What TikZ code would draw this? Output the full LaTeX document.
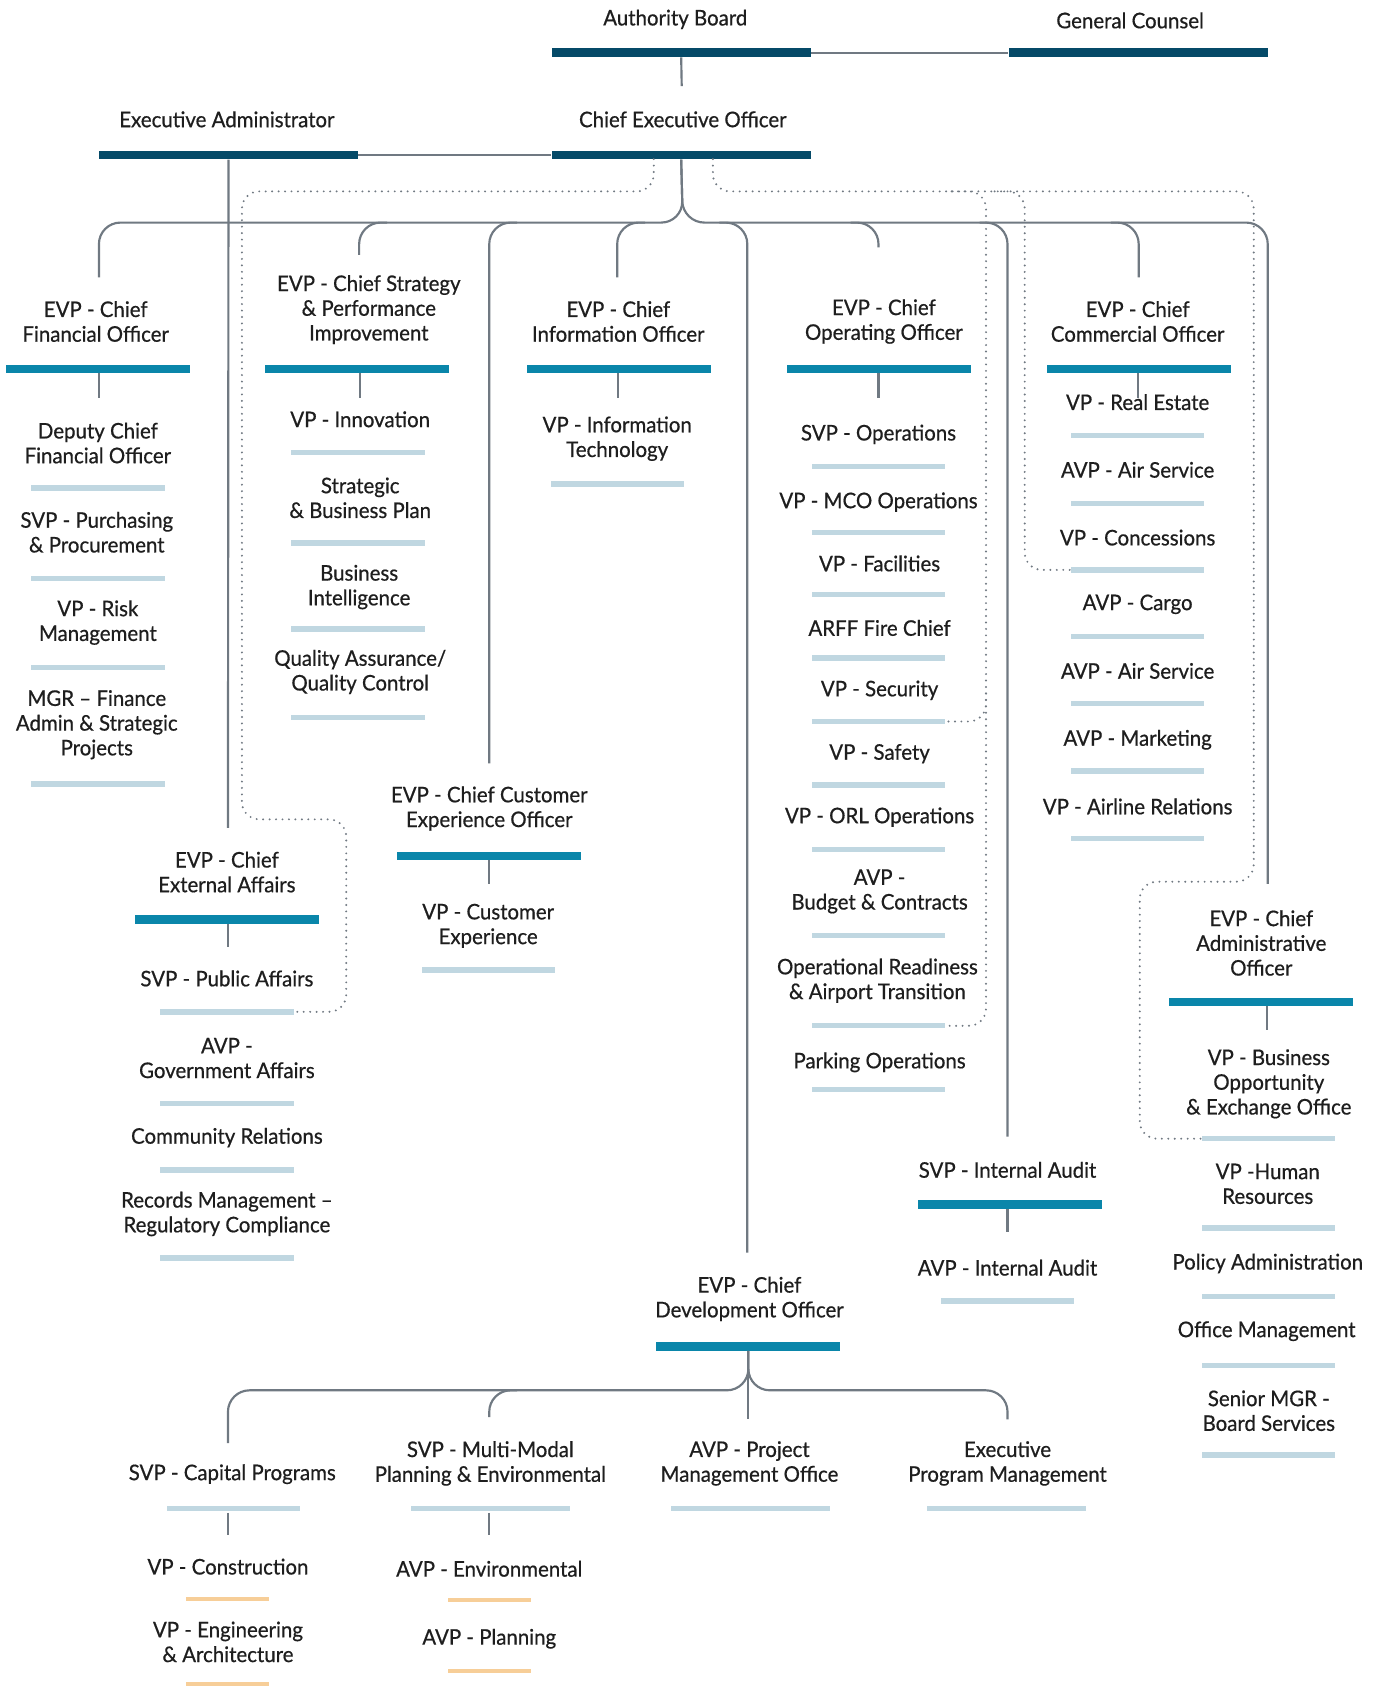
\documentclass[tikz,border=0pt]{standalone}
\usepackage{fontspec}
\setmainfont{Lato}[FakeStretch=0.95,FakeBold=0.6]
\definecolor{navy}{RGB}{5,74,104}
\definecolor{evpteal}{RGB}{10,134,170}
\definecolor{lightb}{RGB}{192,215,225}
\definecolor{orng}{RGB}{247,206,152}
\definecolor{connc}{RGB}{112,121,130}
\definecolor{txt}{RGB}{30,30,30}
\newcommand\lbfont{\fontsize{10pt}{11.5pt}\selectfont}
\tikzset{
 lbl/.style={align=center, inner sep=0pt, font=\lbfont, text=txt},
 topbar/.style={fill=navy, minimum width=120.5pt, minimum height=4pt, inner sep=0pt},
 evpbar/.style={fill=evpteal, minimum width=85.5pt, minimum height=4pt, inner sep=0pt},
 subline/.style={fill=lightb, minimum width=62pt, minimum height=2.5pt, inner sep=0pt},
 wideline/.style={subline, minimum width=74pt},
 orline/.style={fill=orng, minimum width=38.5pt, minimum height=2pt, inner sep=0pt},
 conn/.style={draw=connc, line width=1pt},
 branch/.style={conn, rounded corners=10pt},
 dotl/.style={draw=connc, line width=1pt, line cap=round, dash pattern=on 0pt off 3pt, rounded corners=8pt},
}
\begin{document}
\begin{tikzpicture}[x=0.5pt,y=-0.5pt]
\useasboundingbox[fill=white] (0,0) rectangle (1285,1568);

% ---- top
\node[lbl] (ab) at (628,18) {Authority Board};
\node[topbar] (abbar) at (633.5,49) {};
\node[lbl] (gc) at (1051,19) {General Counsel};
\node[topbar] (gcbar) at (1058.5,49) {};
\node[lbl] (ea) at (211,111) {Executive Administrator};
\node[topbar] (eabar) at (212.5,144) {};
\node[lbl] (ceo) at (635,111) {Chief Executive Officer};
\node[topbar] (ceobar) at (633.5,144) {};

\coordinate (abdown) at (634,80);
\draw[conn] (abbar.east) -- (gcbar.west);
\draw[conn] (abbar.south) -- (abdown);
\draw[conn] (eabar.east) -- (ceobar.west);
\coordinate (eaend) at (212,770);
\draw[conn] (eabar.south) -- (eaend);

% ---- main tree
\draw[branch] (ceobar.south) -- (635,207) -- (92,207) -- (92,258);
\draw[branch] (ceobar.south) -- (635,207) -- (1179,207) -- (1179,822);
\draw[branch] (360,207) -- (334,207) -- (334,237);
\draw[branch] (481,207) -- (455,207) -- (455,710);
\draw[branch] (600,207) -- (574,207) -- (574,258);
\draw[branch] (669,207) -- (695,207) -- (695,1165);
\draw[branch] (791,207) -- (817,207) -- (817,230);
\draw[branch] (911,207) -- (937,207) -- (937,1057);
\draw[branch] (1033,207) -- (1059,207) -- (1059,258);

% ---- EVP headers
\node[lbl] (cfo) at (89,299) {EVP - Chief\\Financial Officer};
\node[evpbar] (cfobar) at (91.5,343) {};
\node[lbl] (csp) at (343,288) {EVP - Chief Strategy\\\& Performance\\Improvement};
\node[evpbar] (cspbar) at (332,343) {};
\node[lbl] (cio) at (575,299) {EVP - Chief\\Information Officer};
\node[evpbar] (ciobar) at (576,343) {};
\node[lbl] (coo) at (822,299) {EVP - Chief\\Operating Officer};
\node[evpbar] (coobar) at (817.5,343) {};
\node[lbl] (cco) at (1058,299) {EVP - Chief\\Commercial Officer};
\node[evpbar] (ccobar) at (1059,343) {};

\draw[conn] (92,347) -- (92,370);
\draw[conn] (335,347) -- (335,370);
\draw[conn] (575,347) -- (575,370);
\draw[conn] (817,347) -- (817,370);
\draw[conn] (1058,347) -- (1058,370);

% ---- CFO column
\node[lbl] (dcfo) at (91,412) {Deputy Chief\\Financial Officer};
\node[subline] (dcfol) at (91,454) {};
\node[lbl] (purch) at (90,495) {SVP - Purchasing\\\& Procurement};
\node[subline] (purchl) at (91,538) {};
\node[lbl] (risk) at (91,579) {VP - Risk\\Management};
\node[subline] (riskl) at (91,621) {};
\node[lbl] (mgrf) at (90,674) {MGR – Finance\\Admin \& Strategic\\Projects};
\node[subline] (mgrfl) at (91,729) {};

% ---- Strategy column
\node[lbl] (innov) at (335,390) {VP - Innovation};
\node[subline] (innovl) at (333,421) {};
\node[lbl] (sbp) at (335,463) {Strategic\\\& Business Plan};
\node[subline] (sbpl) at (333,505) {};
\node[lbl] (bi) at (334,546) {Business\\Intelligence};
\node[subline] (bil) at (333,585) {};
\node[lbl] (qa) at (335,625) {Quality Assurance/\\Quality Control};
\node[subline] (qal) at (333,667) {};

% ---- CIO column
\node[lbl] (vpit) at (574,408) {VP - Information\\Technology};
\node[subline] (vpitl) at (574,450) {};

% ---- COO column
\node[lbl] (svpops) at (817,404) {SVP - Operations};
\node[subline] (svpopsl) at (817,434) {};
\node[lbl] (mco) at (817,467) {VP - MCO Operations};
\node[subline] (mcol) at (817,495) {};
\node[lbl] (fac) at (818,524) {VP - Facilities};
\node[subline] (facl) at (817,553) {};
\node[lbl] (arff) at (818,584) {ARFF Fire Chief};
\node[subline] (arffl) at (817,612) {};
\node[lbl] (sec) at (818,642) {VP - Security};
\node[subline] (secl) at (817,671) {};
\node[lbl] (saf) at (818,701) {VP - Safety};
\node[subline] (safl) at (817,730) {};
\node[lbl] (orl) at (818,760) {VP - ORL Operations};
\node[subline] (orll) at (817,790) {};
\node[lbl] (budg) at (818,829) {AVP -\\Budget \& Contracts};
\node[subline] (budgl) at (817,870) {};
\node[lbl] (opr) at (816,912) {Operational Readiness\\\& Airport Transition};
\node[subline] (oprl) at (817,954) {};
\node[lbl] (park) at (818,988) {Parking Operations};
\node[subline] (parkl) at (817,1013) {};

% ---- CCO column
\node[lbl] (re) at (1058,374) {VP - Real Estate};
\node[subline] (rel) at (1058,405) {};
\node[lbl] (air1) at (1058,437) {AVP - Air Service};
\node[subline] (air1l) at (1058,468) {};
\node[lbl] (conc) at (1058,500) {VP - Concessions};
\node[subline] (concl) at (1058,530) {};
\node[lbl] (cargo) at (1058,562) {AVP - Cargo};
\node[subline] (cargol) at (1058,592) {};
\node[lbl] (air2) at (1058,624) {AVP - Air Service};
\node[subline] (air2l) at (1058,654) {};
\node[lbl] (mkt) at (1058,688) {AVP - Marketing};
\node[subline] (mktl) at (1058,717) {};
\node[lbl] (alr) at (1058,750) {VP - Airline Relations};
\node[subline] (alrl) at (1058,780) {};

% ---- Customer experience
\node[lbl] (cxo) at (455,752) {EVP - Chief Customer\\Experience Officer};
\node[evpbar] (cxobar) at (454.5,796) {};
\draw[conn] (455,800) -- (455,822);
\node[lbl] (vpcx) at (454,861) {VP - Customer\\Experience};
\node[subline] (vpcxl) at (454,902) {};

% ---- External affairs
\node[lbl] (exa) at (211,811) {EVP - Chief\\External Affairs};
\node[evpbar] (exabar) at (211,855) {};
\draw[conn] (212,859) -- (212,881);
\node[lbl] (pub) at (211,910) {SVP - Public Affairs};
\node[subline] (publ) at (211,941) {};
\node[lbl] (gov) at (211,984) {AVP -\\Government Affairs};
\node[subline] (govl) at (211,1026) {};
\node[lbl] (comm) at (211,1058) {Community Relations};
\node[subline] (comml) at (211,1088) {};
\node[lbl] (rec) at (211,1129) {Records Management –\\Regulatory Compliance};
\node[subline] (recl) at (211,1170) {};

% ---- CAO
\node[lbl] (cao) at (1173,877) {EVP - Chief\\Administrative\\Officer};
\node[evpbar] (caobar) at (1173,932) {};
\draw[conn] (1178,936) -- (1178,958);
\node[lbl] (biz) at (1180,1008) {VP - Business\\Opportunity\\\& Exchange Office};
\node[subline] (bizl) at (1180,1059) {};
\node[lbl] (hr) at (1179,1101) {VP -Human\\Resources};
\node[subline] (hrl) at (1180,1142) {};
\node[lbl] (pol) at (1179,1175) {Policy Administration};
\node[subline] (poll) at (1180,1206) {};
\node[lbl] (offm) at (1178,1238) {Office Management};
\node[subline] (offml) at (1180,1270) {};
\node[lbl] (bsvc) at (1180,1312) {Senior MGR -\\Board Services};
\node[subline] (bsvcl) at (1180,1353) {};

% ---- Internal audit
\node[lbl] (ia) at (937,1088) {SVP - Internal Audit};
\node[evpbar] (iabar) at (939,1120) {};
\draw[conn] (937,1124) -- (937,1146);
\node[lbl] (aia) at (937,1179) {AVP - Internal Audit};
\node[subline] (aial) at (937,1210) {};

% ---- CDO
\node[lbl] (cdo) at (697,1208) {EVP - Chief\\Development Officer};
\node[evpbar] (cdobar) at (696,1252) {};
\draw[branch] (cdobar.south) -- (696,1293) -- (212,1293) -- (212,1342);
\draw[branch] (cdobar.south) -- (696,1293) -- (937,1293) -- (937,1320);
\draw[conn] (cdobar.south) -- (696,1320);
\draw[branch] (481,1293) -- (455,1293) -- (455,1318);

\node[lbl] (cap) at (216,1371) {SVP - Capital Programs};
\node[subline] (capl) at (217,1403) {};
\draw[conn] (212,1407) -- (212,1428);
\node[lbl] (cons) at (212,1457) {VP - Construction};
\node[orline] (consl) at (211.5,1487) {};
\node[lbl] (eng) at (212,1527) {VP - Engineering\\\& Architecture};
\node[orline] (engl) at (211.5,1566) {};

\node[lbl] (mm) at (456,1361) {SVP - Multi-Modal\\Planning \& Environmental};
\node[wideline] (mml) at (456,1403) {};
\draw[conn] (455,1407) -- (455,1428);
\node[lbl] (env) at (455,1459) {AVP - Environmental};
\node[orline] (envl) at (455.5,1488) {};
\node[lbl] (plan) at (455,1524) {AVP - Planning};
\node[orline] (planl) at (455.5,1554) {};

\node[lbl] (pmo) at (697,1361) {AVP - Project\\Management Office};
\node[wideline] (pmol) at (698,1403) {};
\node[lbl] (epm) at (937,1361) {Executive\\Program Management};
\node[wideline] (epml) at (936,1403) {};

% ---- dotted lines
\draw[dotl] (608,148) -- (608,178) -- (225,178) -- (225,762) -- (322,762) -- (322,941) -- (publ.east);
\draw[dotl] (663,148) -- (663,178) -- (1166,178) -- (1166,820) -- (1060,820) -- (1060,1059) -- (bizl.west);
\draw[dotl] (885,178) -- (917,178) -- (917,954) -- (oprl.east);
\draw[dotl] (917,645) -- (917,671) -- (secl.east);
\draw[dotl] (925,178) -- (953,178) -- (953,530) -- (concl.west);
\end{tikzpicture}
\end{document}
